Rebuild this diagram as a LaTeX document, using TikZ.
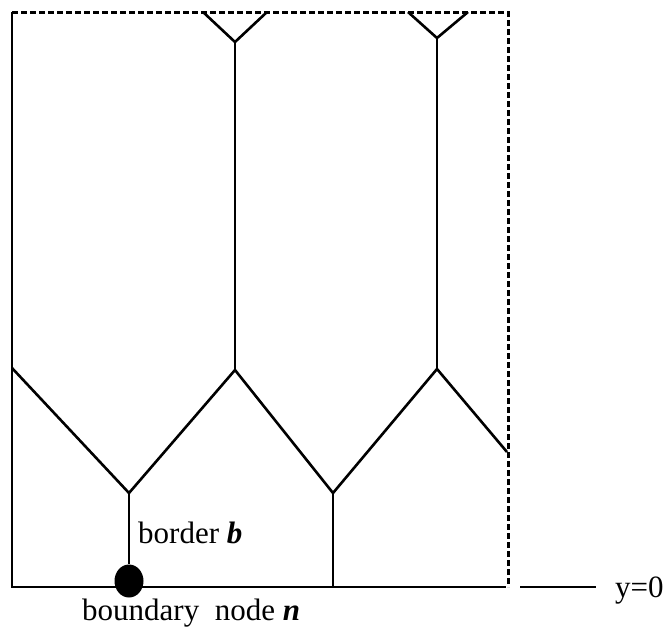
\documentclass[tikz,border=0pt]{standalone}
\usepackage{fontspec}
\usetikzlibrary{shapes.geometric}
\setmainfont{Liberation Serif}
\begin{document}
\begin{tikzpicture}[x=1pt,y=-1pt,
  edge/.style={line width=2.6pt},
  frame/.style={line width=3pt,dash pattern=on 6pt off 3pt},
  lbl/.style={font=\fontsize{31}{35}\selectfont,inner sep=0pt}]
\useasboundingbox (0,0) rectangle (671,630);
% frame corners
\coordinate (tl) at (12,12);
\coordinate (tr) at (508,12);
\coordinate (br) at (508,587);
\coordinate (bl) at (12,587);
\coordinate (be) at (506,587);
% vertices
\coordinate (y1a) at (203,12);
\coordinate (y1b) at (267,12);
\coordinate (y1) at (235,42);
\coordinate (y2a) at (408,12);
\coordinate (y2b) at (468,12);
\coordinate (y2) at (437,38);
\coordinate (m1) at (235,370);
\coordinate (m2) at (437,369);
\coordinate (l0) at (12,368);
\coordinate (v1) at (129,493);
\coordinate (v2) at (333,493);
\coordinate (r0) at (507,452);
\coordinate (b2) at (333,587);
\coordinate (ya) at (520,587);
\coordinate (yb) at (596,587);
% frame
\draw[frame] (tl) -- (tr) -- (br);
\draw[edge] (tl) -- (bl) -- (be);
% edges
\draw[edge] (y1a) -- (y1) -- (y1b);
\draw[edge] (y1) -- (m1);
\draw[edge] (y2a) -- (y2) -- (y2b);
\draw[edge] (y2) -- (m2);
\draw[edge] (l0) -- (v1) -- (m1) -- (v2) -- (m2) -- (r0);
\draw[edge] (v2) -- (b2);
\node[fill=black,ellipse,minimum width=29pt,minimum height=33pt,inner sep=0pt] (n) at (129,581) {};
\draw[edge] (v1) -- (n);
\draw[edge] (ya) -- (yb);
\node[lbl,anchor=base west] (ylab) at (615,597) {y=0};
\node[lbl,anchor=base west] (blab) at (138,543) {border \textit{\textbf{b}}};
\node[lbl,anchor=base west] (nlab) at (82,620) {boundary\ \ node \textit{\textbf{n}}};
\end{tikzpicture}
\end{document}
